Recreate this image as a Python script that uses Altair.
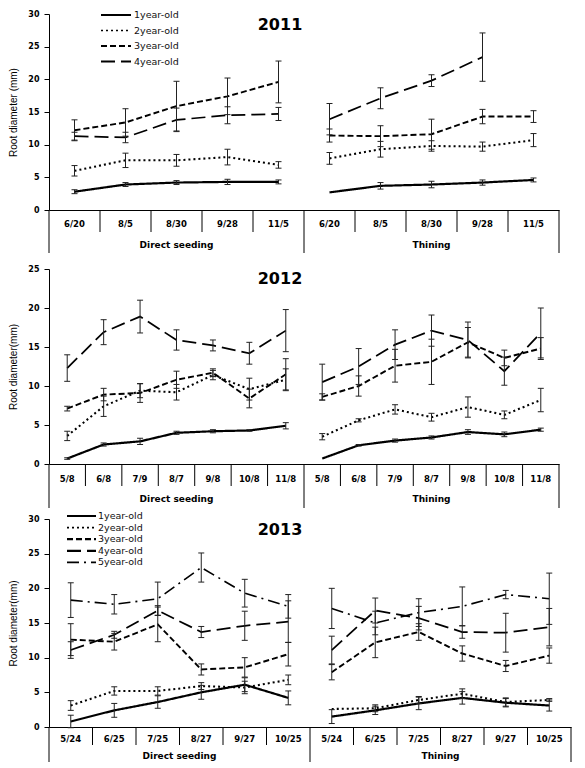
import altair as alt
import pandas as pd

SERIES = ["1year-old", "2year-old", "3year-old", "4year-old", "5year-old"]
DASHES = [[1, 0], [2, 3], [6, 3], [14, 6], [12, 5, 2, 5]]
WIDTHS = [2.2, 1.6, 2.2, 2.2, 1.8]
GROUPS = ["Direct seeding", "Thining"]

# ---------------- 2011 ----------------
dates_2011 = ["6/20", "8/5", "8/30", "9/28", "11/5"]
d2011_mean = {
    "1year-old": [2.8, 3.9, 4.2, 4.3, 4.3],
    "2year-old": [6.0, 7.6, 7.6, 8.1, 6.9],
    "3year-old": [12.2, 13.4, 15.9, 17.4, 19.6],
    "4year-old": [11.3, 11.1, 13.8, 14.5, 14.7],
}
d2011_err = {
    "1year-old": [0.3, 0.3, 0.3, 0.4, 0.3],
    "2year-old": [0.8, 1.1, 0.9, 1.2, 0.5],
    "3year-old": [1.6, 2.1, 3.8, 2.8, 3.2],
    "4year-old": [0.6, 0.8, 1.8, 1.3, 1.0],
}
t2011_mean = {
    "1year-old": [2.7, 3.7, 3.9, 4.2, 4.6],
    "2year-old": [7.9, 9.3, 9.8, 9.7, 10.7],
    "3year-old": [11.4, 11.3, 11.6, 14.3, 14.3],
    "4year-old": [13.9, 17.1, 19.8, 23.4, None],
}
t2011_err = {
    "1year-old": [0.0, 0.5, 0.5, 0.4, 0.3],
    "2year-old": [0.9, 1.2, 0.8, 0.7, 1.0],
    "3year-old": [1.0, 1.6, 2.3, 1.1, 0.9],
    "4year-old": [2.4, 1.6, 0.9, 3.7, 0.0],
}

# ---------------- 2012 ----------------
dates_2012 = ["5/8", "6/8", "7/9", "8/7", "9/8", "10/8", "11/8"]
d2012_mean = {
    "1year-old": [0.7, 2.5, 2.9, 4.0, 4.2, 4.3, 4.9],
    "2year-old": [3.6, 7.4, 9.4, 9.2, 11.4, 9.6, 10.8],
    "3year-old": [7.1, 8.9, 9.1, 10.8, 11.7, 8.4, 11.5],
    "4year-old": [12.3, 16.9, 18.9, 15.9, 15.2, 14.2, 17.1],
}
d2012_err = {
    "1year-old": [0.1, 0.2, 0.4, 0.2, 0.2, 0.1, 0.4],
    "2year-old": [0.6, 1.3, 0.9, 1.0, 0.6, 1.4, 1.4],
    "3year-old": [0.3, 0.8, 1.2, 1.1, 0.5, 1.2, 2.0],
    "4year-old": [1.7, 1.6, 2.1, 1.3, 0.7, 1.4, 2.7],
}
t2012_mean = {
    "1year-old": [0.7, 2.4, 3.0, 3.4, 4.1, 3.8, 4.4],
    "2year-old": [3.5, 5.6, 7.0, 6.0, 7.3, 6.3, 8.2],
    "3year-old": [8.6, 10.0, 12.6, 13.1, 15.6, 13.6, 14.8],
    "4year-old": [10.5, 12.5, 15.3, 17.1, 15.9, 11.9, 16.8],
}
t2012_err = {
    "1year-old": [0.0, 0.1, 0.2, 0.2, 0.3, 0.3, 0.2],
    "2year-old": [0.4, 0.2, 0.6, 0.5, 1.3, 0.5, 1.5],
    "3year-old": [0.4, 1.3, 2.1, 2.9, 1.9, 1.0, 1.4],
    "4year-old": [2.3, 2.3, 1.9, 2.0, 2.3, 1.8, 3.2],
}

# ---------------- 2013 ----------------
dates_2013 = ["5/24", "6/25", "7/25", "8/27", "9/27", "10/25"]
d2013_mean = {
    "1year-old": [0.8, 2.4, 3.6, 5.0, 6.1, 4.2],
    "2year-old": [3.1, 5.2, 5.2, 5.9, 5.7, 6.8],
    "3year-old": [12.6, 12.3, 14.8, 8.3, 8.6, 10.5],
    "4year-old": [11.1, 13.3, 16.8, 13.7, 14.6, 15.2],
    "5year-old": [18.3, 17.7, 18.5, 23.0, 19.3, 17.4],
}
d2013_err = {
    "1year-old": [0.9, 1.0, 0.9, 1.0, 1.0, 1.0],
    "2year-old": [0.7, 0.6, 0.6, 0.5, 0.9, 0.7],
    "3year-old": [2.3, 1.2, 2.5, 0.8, 1.4, 1.7],
    "4year-old": [1.2, 0.5, 0.7, 0.8, 2.1, 3.0],
    "5year-old": [2.5, 1.4, 2.4, 2.1, 2.0, 1.7],
}
t2013_mean = {
    "1year-old": [1.5, 2.4, 3.4, 4.2, 3.5, 3.1],
    "2year-old": [2.6, 2.7, 3.9, 4.8, 3.6, 3.9],
    "3year-old": [7.9, 12.2, 13.7, 10.6, 8.8, 10.3],
    "4year-old": [11.1, 16.8, 15.7, 13.7, 13.6, 14.4],
    "5year-old": [17.1, 15.0, 16.5, 17.4, 19.1, 18.5],
}
t2013_err = {
    "1year-old": [1.0, 0.6, 0.9, 0.9, 0.6, 0.8],
    "2year-old": [0.0, 0.5, 0.5, 0.7, 0.6, 0.2],
    "3year-old": [1.1, 2.2, 1.2, 1.1, 0.8, 1.1],
    "4year-old": [2.0, 1.8, 1.7, 0.9, 2.8, 2.7],
    "5year-old": [2.9, 1.7, 2.0, 2.8, 0.6, 3.7],
}

FONT = "DejaVu Sans"


def build_df(dates, dmean, derr, tmean, terr, capw):
    rows = []
    n = len(dates)
    for g, (means, errs) in enumerate([(dmean, derr), (tmean, terr)]):
        for s, vals in means.items():
            for i, v in enumerate(vals):
                if v is None:
                    continue
                e = errs[s][i]
                pos = g * n + i + 0.5
                rows.append(dict(series=s, group=g, pos=pos, mean=v, lo=v - e,
                                 hi=v + e, err=e, cl=pos - capw, cr=pos + capw))
    return pd.DataFrame(rows)


def panel(year, dates, dmean, derr, tmean, terr, ymax, w, h, ytitle,
          short, ldy, gdy, long_, title_xy, legend):
    n = len(dates)
    N = 2 * n
    capw = 3.0 * N / w
    df = build_df(dates, dmean, derr, tmean, terr, capw)
    xsc = alt.Scale(domain=[0, N], nice=False, zero=False)
    ysc = alt.Scale(domain=[0, ymax], nice=False, zero=True)
    xax = alt.Axis(title=None, labels=False, ticks=False, grid=False,
                   domainColor="black", domainWidth=1)
    yax = alt.Axis(title=ytitle, values=list(range(0, ymax + 1, 5)), grid=False,
                   tickSize=5, labelPadding=5, titlePadding=9)

    def X(f):
        return alt.X(f, scale=xsc, axis=xax)

    def Y(f):
        return alt.Y(f, scale=ysc, axis=yax)

    dash = alt.StrokeDash("series:N", scale=alt.Scale(domain=SERIES, range=DASHES), legend=None)
    sw = alt.StrokeWidth("series:O", scale=alt.Scale(domain=SERIES, range=WIDTHS), legend=None)

    lines = alt.Chart(df).mark_line(color="black").encode(
        x=X("pos:Q"), y=Y("mean:Q"), strokeDash=dash, strokeWidth=sw, detail="group:N")
    edf = df[df.err > 0]
    ecol = "#222222"
    bars = alt.Chart(edf).mark_rule(color=ecol, strokeWidth=1).encode(
        x=X("pos:Q"), y=Y("lo:Q"), y2="hi:Q")
    caps_hi = alt.Chart(edf).mark_rule(color=ecol, strokeWidth=1).encode(
        x=X("cl:Q"), x2="cr:Q", y=Y("hi:Q"))
    caps_lo = alt.Chart(edf).mark_rule(color=ecol, strokeWidth=1).encode(
        x=X("cl:Q"), x2="cr:Q", y=Y("lo:Q"))

    inner = pd.DataFrame({"pos": [k for k in range(1, N) if k != n]})
    outer = pd.DataFrame({"pos": [0, n, N]})
    div_s = alt.Chart(inner).mark_rule(color="black", strokeWidth=1).encode(
        x=X("pos:Q"), y=alt.value(h), y2=alt.value(h + short))
    div_l = alt.Chart(outer).mark_rule(color="black", strokeWidth=1).encode(
        x=X("pos:Q"), y=alt.value(h), y2=alt.value(h + long_))

    labs = pd.DataFrame({"pos": [k + 0.5 for k in range(N)], "label": dates + dates})
    date_text = alt.Chart(labs).mark_text(
        font=FONT, fontWeight="bold", fontSize=8.5, baseline="middle", color="black"
    ).encode(x=X("pos:Q"), y=alt.value(h + ldy), text="label:N")
    grps = pd.DataFrame({"pos": [n / 2, n + n / 2], "label": GROUPS})
    grp_text = alt.Chart(grps).mark_text(
        font=FONT, fontWeight="bold", fontSize=9, baseline="middle", color="black"
    ).encode(x=X("pos:Q"), y=alt.value(h + gdy), text="label:N")

    ttl = alt.Chart(pd.DataFrame({"t": [str(year)]})).mark_text(
        font=FONT, fontWeight="bold", fontSize=16, baseline="middle", color="black"
    ).encode(x=alt.value(title_xy[0]), y=alt.value(title_xy[1]), text="t:N")

    layers = [lines, bars, caps_hi, caps_lo, div_s, div_l, date_text, grp_text, ttl]

    if legend is not None:
        x0, x1, tx, y0, dy, fs = legend
        for i, s in enumerate(dmean.keys()):
            k = SERIES.index(s)
            one = pd.DataFrame({"series": [s]})
            layers.append(alt.Chart(one).mark_rule(
                color="black", strokeDash=DASHES[k], strokeWidth=WIDTHS[k]
            ).encode(x=alt.value(x0), x2=alt.value(x1), y=alt.value(y0 + i * dy)))
            layers.append(alt.Chart(one).mark_text(
                font=FONT, fontSize=fs, align="left", baseline="middle", color="#111111"
            ).encode(x=alt.value(tx), y=alt.value(y0 + i * dy), text="series:N"))

    return alt.layer(*layers).properties(width=w, height=h)


p1 = panel(2011, dates_2011, d2011_mean, d2011_err, t2011_mean, t2011_err,
           30, 510, 196, "Root diameter (mm)", 22, 14, 35, 43, (231, 11),
           (52, 82, 85, 1, 15.5, 9.5))
p2 = panel(2012, dates_2012, d2012_mean, d2012_err, t2012_mean, t2012_err,
           25, 510, 195, "Root diameter(mm)", 22, 15, 35, 44, (231, 10), None)
p3 = panel(2013, dates_2013, d2013_mean, d2013_err, t2013_mean, t2013_err,
           30, 522, 208, "Root diameter(mm)", 18, 12, 29, 35, (231, 11),
           (18, 47, 49, -3, 11.6, 9.5))

top = alt.vconcat(p1, p2, spacing=11).resolve_scale(x="independent", y="independent")
chart = alt.vconcat(top, p3, spacing=2).resolve_scale(
    x="independent", y="independent"
).properties(
    padding={"left": 0, "top": 2, "right": 0, "bottom": 0}
).configure_view(stroke=None).configure_axis(
    labelFont=FONT, labelFontWeight="bold", labelFontSize=8, labelColor="black",
    tickColor="black", domainColor="black", titleFont="Liberation Sans",
    titleFontWeight="normal", titleFontSize=10, titleColor="black"
)

chart.save("out.html", embed_options={"renderer": "svg", "actions": False})
